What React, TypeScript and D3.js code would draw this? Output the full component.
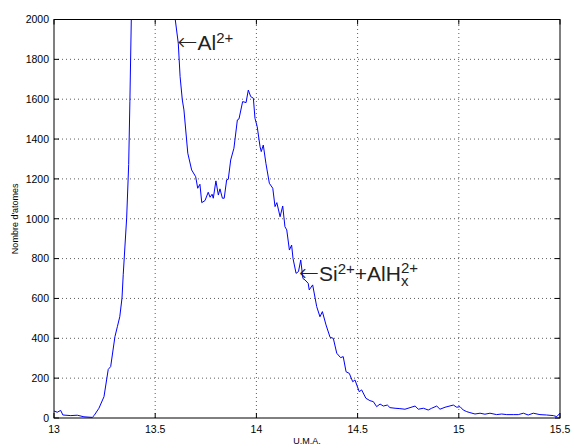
import React from "react";
import * as d3 from "d3";

const massX: number[] = [
  13.0, 13.016, 13.033, 13.044, 13.083, 13.115, 13.148, 13.189, 13.198, 13.222,
  13.247, 13.268, 13.28, 13.301, 13.313, 13.325, 13.336, 13.342, 13.359, 13.369,
  13.375, 13.382, 13.4, 13.45, 13.5, 13.55, 13.58,
  13.599, 13.614, 13.623, 13.634, 13.642, 13.661, 13.68, 13.7, 13.71, 13.721,
  13.73, 13.746, 13.762, 13.771, 13.781, 13.787, 13.8, 13.812, 13.82, 13.832,
  13.841, 13.853, 13.861, 13.873, 13.889, 13.906, 13.914, 13.932, 13.949, 13.96,
  13.972, 13.985, 13.993, 14.004, 14.018, 14.024, 14.034, 14.047, 14.064, 14.081,
  14.092, 14.101, 14.117, 14.13, 14.141, 14.15, 14.163, 14.174, 14.181, 14.196,
  14.208, 14.219, 14.23, 14.24, 14.256, 14.261, 14.278, 14.298, 14.314, 14.326,
  14.344, 14.364, 14.38, 14.397, 14.416, 14.429, 14.443, 14.459, 14.476, 14.487,
  14.508, 14.52, 14.541, 14.561, 14.578, 14.594, 14.611, 14.627, 14.647, 14.66,
  14.685, 14.709, 14.734, 14.759, 14.784, 14.8, 14.825, 14.849, 14.866, 14.891,
  14.907, 14.932, 14.973, 14.99, 15.006, 15.022, 15.039, 15.055, 15.08, 15.105,
  15.129, 15.154, 15.187, 15.212, 15.237, 15.269, 15.294, 15.319, 15.343, 15.368,
  15.401, 15.434, 15.467, 15.484, 15.5,
];

const atomCounts: number[] = [
  35, 29, 38, 15, 12, 14, 6, 3, 12, 49,
  107, 244, 258, 408, 458, 508, 602, 719, 1004, 1272,
  1590, 2008, 3000, 5200, 4800, 3300, 2400,
  2000, 1881, 1713, 1596, 1546, 1329, 1245, 1211, 1153, 1173,
  1081, 1091, 1133, 1108, 1123, 1103, 1190, 1119, 1150, 1103,
  1103, 1195, 1198, 1295, 1354, 1496, 1501, 1588, 1583, 1646,
  1613, 1605, 1504, 1462, 1362, 1337, 1370, 1278, 1178, 1153,
  1061, 1081, 1010, 1064, 960, 944, 843, 868, 800, 726,
  735, 793, 700, 693, 676, 643, 668, 559, 508, 534,
  467, 405, 400, 325, 303, 308, 232, 224, 182, 191,
  132, 141, 99, 87, 82, 57, 70, 60, 65, 52,
  49, 47, 44, 52, 60, 44, 49, 40, 49, 60,
  44, 54, 65, 54, 57, 40, 32, 27, 20, 24,
  19, 24, 17, 20, 17, 17, 17, 24, 15, 24,
  17, 15, 12, 7, 24,
];

const xTicks: number[] = [13, 13.5, 14, 14.5, 15, 15.5];
const yTicks: number[] = [0, 200, 400, 600, 800, 1000, 1200, 1400, 1600, 1800, 2000];

const xLabel = "U.M.A.";
const yLabel = "Nombre d'atomes";

const W = 574;
const H = 448;
const M = { left: 54, right: 14, top: 19.5, bottom: 30 };
const FONT = "'Liberation Sans', Arial, Helvetica, sans-serif";
const ARROW_FONT = "'DejaVu Sans', sans-serif";

export default function App() {
  const x = d3.scaleLinear().domain([13, 15.5]).range([M.left, W - M.right]);
  const y = d3.scaleLinear().domain([0, 2000]).range([H - M.bottom, M.top]);
  const pts: [number, number][] = massX.map((m, i) => [m, atomCounts[i]]);
  const line = d3
    .line<[number, number]>()
    .x((d) => x(d[0]))
    .y((d) => y(d[1]));
  const x0 = x.range()[0];
  const x1 = x.range()[1];
  const y0 = y.range()[0];
  const y1 = y.range()[1];
  const tl = 5;

  const alPos = { m: 13.61, v: 1880 };
  const siPos = { m: 14.21, v: 722 };

  return (
    <svg
      width={W}
      height={H}
      style={{ position: "absolute", left: 0, top: 0, background: "#fff" }}
      fontFamily={FONT}
    >
      <defs>
        <clipPath id="plotclip">
          <rect x={x0} y={y1} width={x1 - x0} height={y0 - y1} />
        </clipPath>
      </defs>
      <rect x={0} y={0} width={W} height={H} fill="#fff" />
      {/* grid */}
      {xTicks.slice(1, -1).map((t) => (
        <line
          key={"gx" + t}
          x1={x(t)}
          x2={x(t)}
          y1={y0}
          y2={y1}
          stroke="#333"
          strokeWidth={0.8}
          strokeDasharray="1,3"
        />
      ))}
      {yTicks.slice(1, -1).map((t) => (
        <line
          key={"gy" + t}
          x1={x0}
          x2={x1}
          y1={y(t)}
          y2={y(t)}
          stroke="#333"
          strokeWidth={0.8}
          strokeDasharray="1,3"
        />
      ))}
      {/* data */}
      <path
        d={line(pts) || ""}
        fill="none"
        stroke="#0000ff"
        strokeWidth={1}
        clipPath="url(#plotclip)"
      />
      {/* frame */}
      <rect x={x0} y={y1} width={x1 - x0} height={y0 - y1} fill="none" stroke="#000" strokeWidth={1} />
      {/* ticks */}
      {xTicks.map((t) => (
        <g key={"tx" + t}>
          <line x1={x(t)} x2={x(t)} y1={y0} y2={y0 - tl} stroke="#000" />
          <line x1={x(t)} x2={x(t)} y1={y1} y2={y1 + tl} stroke="#000" />
          <text x={x(t)} y={y0 + 15} textAnchor="middle" fontSize={10.5} fill="#000">
            {String(t)}
          </text>
        </g>
      ))}
      {yTicks.map((t) => (
        <g key={"ty" + t}>
          <line x1={x0} x2={x0 + tl} y1={y(t)} y2={y(t)} stroke="#000" />
          <line x1={x1} x2={x1 - tl} y1={y(t)} y2={y(t)} stroke="#000" />
          <text x={x0 - 5} y={y(t) + 3.8} textAnchor="end" fontSize={10.5} fill="#000">
            {String(t)}
          </text>
        </g>
      ))}
      {/* axis labels */}
      <text x={(x0 + x1) / 2} y={H - 4} textAnchor="middle" fontSize={9} fill="#000">
        {xLabel}
      </text>
      <text
        transform={`translate(18,${(y0 + y1) / 2}) rotate(-90)`}
        textAnchor="middle"
        fontSize={9}
        fill="#000"
      >
        {yLabel}
      </text>
      {/* annotations */}
      <text x={x(alPos.m)} y={y(alPos.v) + 6.5} fontSize={21} fill="#222">
        <tspan fontFamily={ARROW_FONT} fontSize={24} fontWeight={200}>←</tspan>
        <tspan>Al</tspan>
        <tspan fontSize={15} dy={-7}>2+</tspan>
      </text>
      <text x={x(siPos.m)} y={y(siPos.v) + 6.5} fontSize={21} fill="#222">
        <tspan fontFamily={ARROW_FONT} fontSize={24} fontWeight={200}>←</tspan>
        <tspan>Si</tspan>
        <tspan fontSize={15} dy={-7}>2+</tspan>
        <tspan dy={7}>+AlH</tspan>
        <tspan fontSize={15} dy={5}>x</tspan>
        <tspan fontSize={15} dx={-7.5} dy={-13}>2+</tspan>
      </text>
    </svg>
  );
}
